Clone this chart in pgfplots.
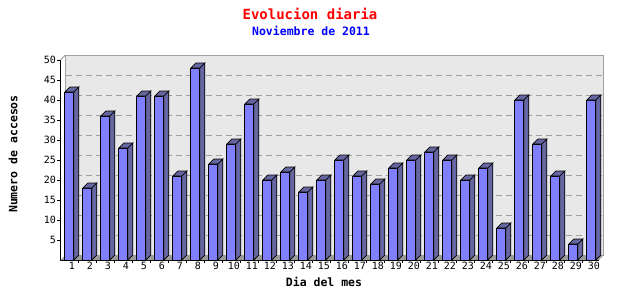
\documentclass[border=0pt]{standalone}
\usepackage{pgfplots}
\pgfplotsset{compat=1.18}
\usepackage{fontspec}
\setmonofont{DejaVu Sans Mono}
\definecolor{frontc}{RGB}{128,128,255}
\definecolor{sidec}{RGB}{102,102,160}
\definecolor{wallc}{RGB}{232,232,232}
\definecolor{bordc}{RGB}{160,160,160}
\definecolor{floorc}{RGB}{155,155,155}
\pgfdeclareplotmark{nothing}{}
\begin{document}
\begin{tikzpicture}
\useasboundingbox (0,0) rectangle (640pt,300pt);
\node[font=\ttfamily\bfseries\fontsize{14}{16}\selectfont, text=red] at (310pt,286pt) {Evolucion diaria};
\node[font=\ttfamily\bfseries\fontsize{11.5}{13}\selectfont, text=blue] at (311pt,269pt) {Noviembre de 2011};
\node[font=\ttfamily\bfseries\fontsize{11.5}{13}\selectfont, rotate=90] at (13pt,146pt) {Numero de accesos};
\node[font=\ttfamily\bfseries\fontsize{11.5}{13}\selectfont] at (324pt,18pt) {Dia del mes};
\begin{axis}[
  at={(60.5pt,40pt)}, anchor=south west,
  x=18pt, y=4pt,
  xmin=0.51, xmax=30.42, ymin=0, ymax=50,
  axis x line*=bottom, axis y line*=left,
  axis line style={black, line width=0.8pt},
  tick align=outside,
  major tick length=3pt,
  tick style={black, line width=0.8pt},
  ytick={5,10,...,50},
  xtick={1.49,2.49,...,29.49},
  xticklabels={},
  extra x ticks={1,2,...,30},
  extra x tick style={major tick length=0pt, xticklabel style={xshift=2.5pt}},
  /pgf/number format/assume math mode=true,
  tick label style={font=\ttfamily\fontsize{10}{12}\selectfont},
  yticklabel style={inner sep=1.5pt},
  xticklabel style={inner sep=2pt},
  clip=false,
]
% back wall
\fill[wallc, draw=bordc, line width=0.8pt] ([xshift=5pt,yshift=5pt]axis cs:0.51,0) rectangle ([xshift=5pt,yshift=5pt]axis cs:30.42,50);
\draw[bordc, line width=0.8pt] (axis cs:0.51,50) -- ([xshift=5pt,yshift=5pt]axis cs:0.51,50);
% grid
\pgfplotsinvokeforeach{5,10,15,20,25,30,35,40,45}{
  \draw[bordc, line width=0.8pt, dash pattern=on 6pt off 4pt] ([xshift=5pt,yshift=5pt]axis cs:0.51,#1) -- ([xshift=5pt,yshift=5pt]axis cs:30.42,#1);
}
% floor
\fill[floorc] (axis cs:0.51,0) -- (axis cs:30.42,0) -- ([xshift=5pt,yshift=5pt]axis cs:30.42,0) -- ([xshift=5pt,yshift=5pt]axis cs:0.51,0) -- cycle;
% front faces
\addplot[ybar, bar width=9pt, fill=frontc, draw=black, line width=0.8pt] coordinates {
(1,42) (2,18) (3,36) (4,28) (5,41) (6,41) (7,21) (8,48) (9,24) (10,29)
(11,39) (12,20) (13,22) (14,17) (15,20) (16,25) (17,21) (18,19) (19,23) (20,25)
(21,27) (22,25) (23,20) (24,23) (25,8) (26,40) (27,29) (28,21) (29,4) (30,40)
};
% top and side faces
\addplot[only marks, scatter, mark=nothing,
  visualization depends on={rawy \as \rawy},
  scatter/@pre marker code/.code={%
    \pgfmathsetmacro\hh{-4*\rawy}%
    \pgfmathsetmacro\hb{5-4*\rawy}%
    \pgfsetlinewidth{0.8pt}%
    \pgfsetstrokecolor{black}%
    \pgfsetfillcolor{sidec}%
    \pgfpathmoveto{\pgfqpoint{-4.5pt}{0pt}}%
    \pgfpathlineto{\pgfqpoint{4.5pt}{0pt}}%
    \pgfpathlineto{\pgfqpoint{9.5pt}{5pt}}%
    \pgfpathlineto{\pgfqpoint{0.5pt}{5pt}}%
    \pgfpathclose
    \pgfpathmoveto{\pgfqpoint{4.5pt}{0pt}}%
    \pgfpathlineto{\pgfqpoint{9.5pt}{5pt}}%
    \pgfpathlineto{\pgfqpoint{9.5pt}{\hb pt}}%
    \pgfpathlineto{\pgfqpoint{4.5pt}{\hh pt}}%
    \pgfpathclose
    \pgfusepath{fill,stroke}%
  },
  scatter/@post marker code/.code={},
] coordinates {
(1,42) (2,18) (3,36) (4,28) (5,41) (6,41) (7,21) (8,48) (9,24) (10,29)
(11,39) (12,20) (13,22) (14,17) (15,20) (16,25) (17,21) (18,19) (19,23) (20,25)
(21,27) (22,25) (23,20) (24,23) (25,8) (26,40) (27,29) (28,21) (29,4) (30,40)
};
\end{axis}
\end{tikzpicture}
\end{document}
